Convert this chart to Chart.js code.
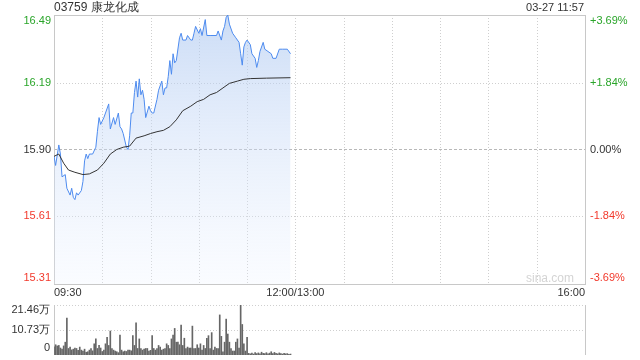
<!DOCTYPE html>
<html>
<head>
<meta charset="utf-8">
<script src="https://cdn.jsdelivr.net/npm/chart.js@4.4.0/dist/chart.umd.min.js"></script>
<style>
	body { margin: 0; background: #fff; font-family: "Liberation Sans", Arial, sans-serif; }
	#wrap { position: relative; width: 640px; height: 360px; overflow: hidden; }
	#title { position: absolute; left: 54px; top: 0; font-size: 12px; line-height: 15px; color: #333; }
	#time { position: absolute; right: 56px; top: 1px; font-size: 11px; line-height: 13px; color: #333; }
	#priceChart { position: absolute; left: 0; top: 0; }
	#volChart { position: absolute; left: 0; top: 300px; }
</style>
</head>
<body>
<div id="wrap">
	<canvas id="priceChart" width="640" height="300"></canvas>
	<canvas id="volChart" width="640" height="60"></canvas>
	<div id="title">03759 康龙化成</div>
	<div id="time">03-27 11:57</div>
</div>
<script>
// минуты от 09:30 (12:00 и 13:00 совпадают на отметке 150, 16:00 = 330)
const prevClose = 15.90
const priceMinutes = [0, 1, 3, 4, 5, 7, 8, 10, 11, 12, 13, 14, 15, 17, 18, 19, 20, 21, 22, 24, 26, 27, 28, 29, 31, 32, 34, 35, 37, 38, 40, 41, 42, 43, 45, 46, 47, 48, 49, 50, 51, 52, 53, 54, 55, 56, 57, 59, 60, 61, 62, 64, 65, 67, 68, 69, 70, 71, 72, 73, 74, 75, 76, 78, 79, 80, 82, 83, 85, 86, 87, 88, 90, 91, 92, 94, 95, 97, 101, 102, 104, 105, 106, 107, 108, 109, 111, 113, 115, 116, 117, 118, 119, 120, 122, 123, 125, 126, 127, 128, 130, 131, 133, 135, 136, 138, 140, 142, 145, 147]
const priceValues = [15.87, 15.83, 15.92, 15.88, 15.78, 15.79, 15.73, 15.70, 15.73, 15.69, 15.68, 15.71, 15.70, 15.72, 15.76, 15.85, 15.88, 15.86, 15.88, 15.88, 15.91, 15.98, 16.04, 16.01, 16.04, 16.06, 16.10, 15.99, 16.04, 16.01, 16.06, 16.00, 15.99, 15.97, 15.91, 15.90, 15.96, 16.06, 16.06, 16.15, 16.20, 16.13, 16.21, 16.14, 16.16, 16.12, 16.04, 16.09, 16.07, 16.06, 16.06, 16.12, 16.16, 16.20, 16.14, 16.17, 16.17, 16.22, 16.29, 16.23, 16.32, 16.28, 16.29, 16.39, 16.41, 16.38, 16.38, 16.40, 16.38, 16.38, 16.41, 16.44, 16.41, 16.43, 16.40, 16.47, 16.40, 16.40, 16.40, 16.42, 16.38, 16.42, 16.44, 16.48, 16.49, 16.45, 16.41, 16.39, 16.37, 16.32, 16.27, 16.35, 16.37, 16.38, 16.36, 16.32, 16.30, 16.26, 16.29, 16.33, 16.37, 16.34, 16.33, 16.32, 16.30, 16.30, 16.34, 16.34, 16.34, 16.32]
const avgMinutes = [0, 3, 6, 9, 13, 18, 22, 27, 31, 35, 39, 43, 47, 51, 56, 60, 64, 68, 72, 76, 80, 85, 89, 93, 97, 101, 105, 109, 114, 118, 122, 132, 147]
const avgValues = [15.87, 15.88, 15.84, 15.81, 15.80, 15.79, 15.793, 15.81, 15.84, 15.88, 15.90, 15.91, 15.915, 15.95, 15.96, 15.97, 15.978, 15.984, 16.00, 16.03, 16.07, 16.09, 16.11, 16.12, 16.14, 16.15, 16.17, 16.19, 16.20, 16.208, 16.211, 16.213, 16.215]
// объём по минутам, в 万
const volumeValues = [
	3.5, 4.4, 3.9, 4.1, 3.0, 2.5, 3.9, 5.5, 15.8, 2.8,
	3.4, 2.2, 2.5, 3.0, 2.8, 2.0, 3.4, 2.1, 1.7, 2.5,
	1.2, 1.4, 2.1, 2.8, 1.8, 4.8, 6.9, 2.8, 4.1, 3.0,
	1.5, 2.1, 4.8, 7.6, 4.1, 10.3, 2.8, 2.1, 1.7, 1.4,
	1.0, 8.5, 2.1, 1.4, 1.7, 1.5, 2.1, 2.1, 1.8, 8.3,
	4.1, 13.8, 2.8, 6.9, 2.8, 2.1, 2.5, 2.8, 2.8, 1.7,
	2.0, 8.3, 2.8, 2.1, 2.8, 4.1, 3.4, 2.1, 2.5, 2.8,
	4.8, 4.1, 2.8, 6.9, 8.5, 11.4, 5.5, 5.5, 4.4, 12.8,
	4.1, 7.2, 2.8, 3.4, 3.0, 3.0, 12.4, 2.8, 2.8, 4.4,
	3.0, 4.8, 2.1, 4.1, 2.8, 7.2, 8.3, 2.8, 9.6, 2.1,
	3.4, 2.8, 2.8, 17.2, 8.0, 1.4, 5.5, 15.4, 9.0, 5.5,
	2.8, 1.7, 1.7, 5.5, 6.9, 3.0, 21.46, 13.1, 4.8, 1.7,
	7.6, 0.7, 0.5, 0.8, 0.4, 1.0, 0.6, 0.9, 0.5, 1.2,
	0.7, 0.6, 1.0, 0.5, 0.8, 1.4, 0.6, 1.1, 0.7, 0.5,
	0.9, 0.6, 0.4, 0.7, 0.5, 0.6, 0.3, 0.4
]
const priceTicks = [15.31, 15.61, 15.90, 16.19, 16.49]
const pctLabels = ['-3.69%', '-1.84%', '0.00%', '+1.84%', '+3.69%']
const volTicks = [0, 10.73, 21.46]
const volLabels = ['0', '10.73万', '21.46万']
const timeTicks = [0, 150, 330]
const timeLabels = ['09:30', '12:00/13:00', '16:00']

const FONT = '11px "Liberation Sans", Arial, sans-serif'
const GREEN = '#2aa52a'
const RED = '#f2392c'
const GRID = '#cfcfcf'
const BORDER = '#c8c8c8'

function crisp(v) { return Math.round(v) + 0.5 }

function tickColor(v) {
	if (Math.abs(v - prevClose) < 0.005) return '#333'
	return v > prevClose ? GREEN : RED
}

// сетка и подписи графика цены
const priceDecor = {
	id: 'priceDecor',
	beforeDatasetsDraw(chart) {
		const { ctx, chartArea: a, scales: { x, y } } = chart
		ctx.save()
		ctx.lineWidth = 1
		ctx.strokeStyle = GRID
		ctx.setLineDash([1, 2])
		for (let m = 30; m < 330; m += 30) {
			const px = crisp(x.getPixelForValue(m))
			ctx.beginPath(); ctx.moveTo(px, a.top); ctx.lineTo(px, a.bottom); ctx.stroke()
		}
		priceTicks.slice(1, -1).forEach(v => {
			const py = crisp(y.getPixelForValue(v))
			if (v === prevClose) { ctx.setLineDash([3, 2]); ctx.strokeStyle = '#b8b8b8' }
			else { ctx.setLineDash([1, 2]); ctx.strokeStyle = GRID }
			ctx.beginPath(); ctx.moveTo(a.left, py); ctx.lineTo(a.right, py); ctx.stroke()
		})
		ctx.setLineDash([])
		ctx.strokeStyle = BORDER
		ctx.strokeRect(crisp(a.left), crisp(a.top), Math.round(a.right - a.left), Math.round(a.bottom - a.top))
		ctx.restore()
	},
	afterDraw(chart) {
		const { ctx, chartArea: a, scales: { x, y } } = chart
		ctx.save()
		ctx.font = FONT
		ctx.textBaseline = 'middle'
		priceTicks.forEach((v, i) => {
			const py = Math.min(Math.max(y.getPixelForValue(v), a.top + 6), a.bottom - 6)
			ctx.fillStyle = tickColor(v)
			ctx.textAlign = 'right'
			ctx.fillText(v.toFixed(2), a.left - 3, py)
			ctx.textAlign = 'left'
			ctx.fillText(pctLabels[i], a.right + 5, py)
		})
		ctx.fillStyle = '#333'
		const aligns = ['left', 'center', 'right']
		timeTicks.forEach((m, i) => {
			ctx.textAlign = aligns[i]
			ctx.fillText(timeLabels[i], x.getPixelForValue(m), a.bottom + 9)
		})
		ctx.fillStyle = '#d4d4d4'
		ctx.font = '12px "Liberation Sans", Arial, sans-serif'
		ctx.textAlign = 'right'
		ctx.fillText('sina.com', a.right - 11, a.bottom - 5)
		ctx.restore()
	}
}

const volDecor = {
	id: 'volDecor',
	beforeDatasetsDraw(chart) {
		const { ctx, chartArea: a, scales: { y } } = chart
		ctx.save()
		ctx.lineWidth = 1
		ctx.strokeStyle = GRID
		ctx.setLineDash([1, 2])
		volTicks.slice(1).forEach(v => {
			const py = crisp(y.getPixelForValue(v))
			ctx.beginPath(); ctx.moveTo(a.left, py); ctx.lineTo(a.right, py); ctx.stroke()
		})
		ctx.setLineDash([])
		ctx.strokeStyle = BORDER
		ctx.beginPath()
		ctx.moveTo(crisp(a.left), a.top); ctx.lineTo(crisp(a.left), a.bottom)
		ctx.moveTo(crisp(a.right), a.top); ctx.lineTo(crisp(a.right), a.bottom)
		ctx.stroke()
		ctx.restore()
	},
	afterDraw(chart) {
		const { ctx, chartArea: a, scales: { y } } = chart
		ctx.save()
		ctx.font = FONT
		ctx.textBaseline = 'middle'
		ctx.textAlign = 'right'
		ctx.fillStyle = '#333'
		volTicks.forEach((v, i) => {
			const py = Math.min(Math.max(y.getPixelForValue(v), a.top + 5), a.bottom - 7)
			ctx.fillText(volLabels[i], a.left - 4, py)
		})
		ctx.restore()
	}
}

document.addEventListener('DOMContentLoaded', () => {
	Chart.defaults.font.family = '"Liberation Sans", Arial, sans-serif'

	new Chart(document.getElementById('priceChart'), {
		type: 'line',
		data: {
			datasets: [{
				label: '均价',
				data: avgMinutes.map((m, i) => ({ x: m, y: avgValues[i] })),
				borderColor: '#333',
				borderWidth: 1,
				pointRadius: 0,
				fill: false,
				order: 0
			}, {
				label: '价格',
				data: priceMinutes.map((m, i) => ({ x: m, y: priceValues[i] })),
				borderColor: '#4d8bef',
				borderWidth: 1,
				pointRadius: 0,
				fill: 'start',
				backgroundColor: ctx => {
					const a = ctx.chart.chartArea
					if (!a) return 'rgba(0,0,0,0)'
					const g = ctx.chart.ctx.createLinearGradient(0, a.top, 0, a.bottom)
					g.addColorStop(0, 'rgba(170,198,240,0.6)')
					g.addColorStop(1, 'rgba(235,242,255,0.25)')
					return g
				},
				order: 1
			}]
		},
		options: {
			responsive: false,
			animation: false,
			layout: { padding: { left: 54, right: 55, top: 15, bottom: 16 } },
			scales: {
				x: { type: 'linear', min: 0, max: 330, display: false },
				y: { min: 15.31, max: 16.49, display: false }
			},
			plugins: { legend: { display: false }, tooltip: { enabled: false } }
		},
		plugins: [priceDecor]
	})

	new Chart(document.getElementById('volChart'), {
		type: 'bar',
		data: {
			datasets: [{
				label: '成交量',
				data: volumeValues.map((v, i) => ({ x: i, y: v })),
				backgroundColor: '#666',
				barThickness: 1
			}]
		},
		options: {
			responsive: false,
			animation: false,
			layout: { padding: { left: 54, right: 55, top: 5, bottom: 5 } },
			scales: {
				x: { type: 'linear', min: 0, max: 330, offset: false, display: false },
				y: { min: 0, max: 21.46, display: false }
			},
			plugins: { legend: { display: false }, tooltip: { enabled: false } }
		},
		plugins: [volDecor]
	})
})
</script>
</body>
</html>
